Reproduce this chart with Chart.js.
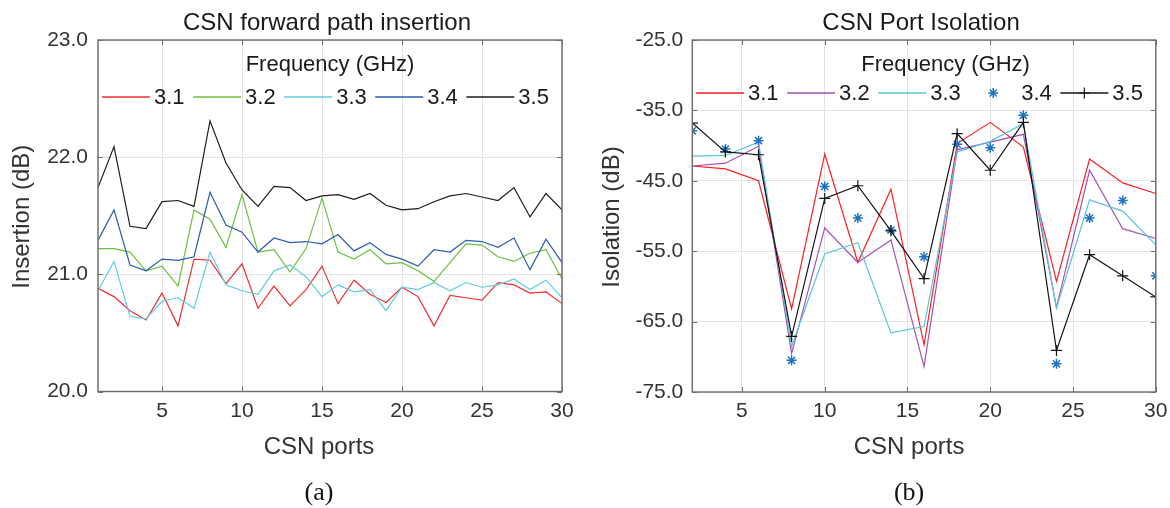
<!DOCTYPE html>
<html><head><meta charset="utf-8">
<script src="https://cdn.jsdelivr.net/npm/chart.js@4.4.1/dist/chart.umd.min.js"></script>
<style>
html,body{margin:0;padding:0;background:#fff;width:1170px;height:508px;overflow:hidden}
#wa{position:absolute;left:0;top:0;width:590px;height:508px}
#wb{position:absolute;left:590px;top:0;width:580px;height:508px}
</style></head><body>
<div id="wa"><canvas id="ca"></canvas></div>
<div id="wb"><canvas id="cb"></canvas></div>
<script>
// ---------- data ----------
const freqLabels = ['3.1', '3.2', '3.3', '3.4', '3.5'];
const portTicks = [5, 10, 15, 20, 25, 30];

const insPorts = [1,2,3,4,5,6,7,8,9,10,11,12,13,14,15,16,17,18,19,20,21,22,23,24,25,26,27,28,29,30];
const ins31 = [20.88,20.81,20.69,20.61,20.84,20.56,21.13,21.12,20.92,21.09,20.71,20.90,20.73,20.87,21.07,20.75,20.95,20.83,20.76,20.89,20.81,20.56,20.82,20.80,20.78,20.93,20.91,20.84,20.85,20.75];
const ins32 = [21.22,21.22,21.19,21.03,21.07,20.90,21.55,21.47,21.23,21.68,21.19,21.21,21.02,21.22,21.65,21.19,21.13,21.21,21.09,21.10,21.03,20.94,21.10,21.26,21.25,21.15,21.11,21.18,21.21,20.96];
const ins33 = [20.86,21.11,20.64,20.62,20.77,20.80,20.71,21.19,20.91,20.86,20.83,21.03,21.08,20.98,20.81,20.91,20.85,20.87,20.69,20.89,20.87,20.93,20.86,20.93,20.89,20.91,20.96,20.87,20.95,20.80];
const ins34 = [21.29,21.55,21.08,21.03,21.13,21.12,21.15,21.70,21.42,21.36,21.19,21.31,21.27,21.28,21.26,21.34,21.20,21.27,21.17,21.13,21.07,21.21,21.19,21.29,21.28,21.23,21.31,21.04,21.30,21.10];
const ins35 = [21.74,22.09,21.41,21.39,21.62,21.63,21.58,22.31,21.95,21.72,21.58,21.75,21.74,21.63,21.67,21.68,21.64,21.69,21.59,21.55,21.56,21.62,21.67,21.69,21.66,21.63,21.74,21.49,21.69,21.55];
const insTicks = [20, 21, 22, 23];

const isoPorts = [2,4,6,8,10,12,14,16,18,20,22,24,26,28,30];
const iso31 = [-42.9,-43.3,-45.0,-63.2,-41.2,-56.6,-46.2,-68.3,-39.7,-36.7,-40.2,-59.3,-41.9,-45.3,-46.8];
const iso32 = [-42.9,-42.5,-40.1,-69.5,-51.7,-56.6,-53.4,-71.4,-40.6,-39.5,-38.4,-63.0,-43.5,-51.8,-53.2];
const iso33 = [-41.5,-41.4,-39.5,-68.5,-55.4,-53.8,-66.6,-65.7,-40.9,-39.4,-36.9,-63.1,-47.7,-49.3,-54.1];
const iso34 = [-37.9,-40.5,-39.3,-70.5,-45.8,-50.3,-52.0,-55.8,-39.8,-40.3,-35.7,-71.0,-50.3,-47.8,-58.5];
const iso35 = [-36.8,-40.9,-41.3,-67.1,-47.5,-45.7,-52.1,-58.9,-38.3,-43.5,-36.7,-69.1,-55.5,-58.5,-61.5];
const isoTicks = [-75, -65, -55, -45, -35, -25];

// ---------- helpers ----------
const F = '"Liberation Sans", Arial, Helvetica, sans-serif';
const SERIF = '"Liberation Serif", "Times New Roman", serif';
const AX = '#707070';
const TXT = '#333333';

function xy(xs, ys){ return ys.map((v,i)=>({x:xs[i], y:v})); }

function drawMarker(ctx, style, x, y, r){
  if (style === 'cross' || style === 'star'){
    ctx.moveTo(x - r, y); ctx.lineTo(x + r, y);
    ctx.moveTo(x, y - r); ctx.lineTo(x, y + r);
  }
  if (style === 'star'){
    const d = r * Math.SQRT1_2;
    ctx.moveTo(x - d, y - d); ctx.lineTo(x + d, y + d);
    ctx.moveTo(x - d, y + d); ctx.lineTo(x + d, y - d);
  }
}

function decor(o){
  return {
    id:'decor',
    afterDatasetsDraw(chart){
      const ctx = chart.ctx, a = chart.chartArea, xs = chart.scales.x, ys = chart.scales.y;
      ctx.save();
      // inward ticks
      ctx.strokeStyle = AX; ctx.lineWidth = 1;
      ctx.beginPath();
      xs.ticks.forEach(t=>{
        const p = Math.round(xs.getPixelForValue(t.value)) + 0.5;
        ctx.moveTo(p, a.bottom); ctx.lineTo(p, a.bottom - 5);
        ctx.moveTo(p, a.top); ctx.lineTo(p, a.top + 5);
      });
      ys.ticks.forEach(t=>{
        const p = Math.round(ys.getPixelForValue(t.value)) + 0.5;
        ctx.moveTo(a.left, p); ctx.lineTo(a.left + 5, p);
        ctx.moveTo(a.right, p); ctx.lineTo(a.right - 5, p);
      });
      ctx.stroke();
      // box
      ctx.lineWidth = 1.5;
      ctx.strokeRect(a.left, a.top, a.right - a.left, a.bottom - a.top);

      const cx = (a.left + a.right) / 2;
      ctx.fillStyle = '#1a1a1a';
      ctx.font = '24px ' + F; ctx.textAlign = 'center'; ctx.textBaseline = 'alphabetic';
      ctx.fillText(o.title, cx - 3, 29.5);
      ctx.fillStyle = TXT;
      ctx.fillText(o.xlabel, cx + o.xlabOff, 454);
      ctx.save();
      ctx.translate(22, (a.top + a.bottom)/2 + 1);
      ctx.rotate(-Math.PI/2);
      ctx.textBaseline = 'middle';
      ctx.fillText(o.ylabel, 0, 0);
      ctx.restore();
      ctx.fillStyle = '#111';
      ctx.font = '26px ' + SERIF; ctx.textAlign = 'center'; ctx.textBaseline = 'alphabetic';
      ctx.fillText(o.caption, cx + o.xlabOff, 500);

      // legend
      ctx.fillStyle = '#1a1a1a';
      ctx.font = '22px ' + F; ctx.textAlign = 'center'; ctx.textBaseline = 'alphabetic';
      ctx.fillText('Frequency (GHz)', cx + o.legTitleOff, 71);
      ctx.textAlign = 'left'; ctx.textBaseline = 'middle';
      let lx = a.left + o.legStart;
      const ly = o.legY;
      const ll = 48;
      o.legend.forEach((it, i)=>{
        ctx.strokeStyle = it.color;
        if (it.line){
          ctx.lineWidth = 1.3;
          ctx.beginPath(); ctx.moveTo(lx, ly); ctx.lineTo(lx + ll, ly); ctx.stroke();
        }
        if (it.marker){
          ctx.lineWidth = it.mw;
          ctx.beginPath(); drawMarker(ctx, it.marker, lx + ll/2, ly, it.mr); ctx.stroke();
        }
        ctx.fillStyle = '#1a1a1a';
        ctx.fillText(freqLabels[i], lx + ll + 4, ly + 1);
        lx += ll + 4 + ctx.measureText(freqLabels[i]).width + 8.5;
      });
      ctx.restore();
    }
  };
}

function makeChart(id, o){
  const W = o.W, H = 508;
  return new Chart(document.getElementById(id), {
    type: 'line',
    data: { datasets: o.datasets },
    options: {
      responsive: true, maintainAspectRatio: false, animation: false,
      devicePixelRatio: 1,
      layout: { padding: { top: o.top, right: W - o.right, left: 0, bottom: 0 } },
      plugins: { legend: { display: false }, tooltip: { enabled: false }, title: { display: false } },
      elements: { line: { tension: 0, borderWidth: 1.2 } },
      scales: {
        x: {
          type: 'linear', min: o.xmin, max: 30,
          afterBuildTicks: s => { s.ticks = portTicks.map(v => ({ value: v })); },
          afterFit: s => { s.height = H - o.bottom; s.paddingLeft = 0; s.paddingRight = 0; },
          grid: { color: '#e3e3e3', lineWidth: 1, drawTicks: false },
          border: { display: false },
          ticks: { autoSkip: false, maxRotation: 0, padding: 7, color: TXT, font: { size: 21, family: F }, callback: v => String(v) }
        },
        y: {
          min: o.ymin, max: o.ymax,
          afterBuildTicks: s => { s.ticks = o.yticks.map(v => ({ value: v })); },
          afterFit: s => { s.width = o.left; s.paddingTop = 0; s.paddingBottom = 0; },
          grid: { color: '#e3e3e3', lineWidth: 1, drawTicks: false },
          border: { display: false },
          ticks: { padding: o.ypad, color: TXT, font: { size: 21, family: F }, callback: v => Number(v).toFixed(1) }
        }
      }
    },
    plugins: [decor(o)]
  });
}

// ---------- left chart ----------
const leftColors = ['#f03030', '#6cbf3f', '#60cde0', '#2a5cb0', '#1c1c1c'];
const insSeries = [ins31, ins32, ins33, ins34, ins35];
makeChart('ca', {
  W: 590, left: 98, right: 562, top: 40, bottom: 391.5,
  xmin: 1, ymin: 20, ymax: 23, yticks: insTicks, ypad: 10,
  title: 'CSN forward path insertion', xlabel: 'CSN ports', ylabel: 'Insertion (dB)', caption: '(a)',
  xlabOff: -11, legTitleOff: 0, legStart: 4, legY: 97,
  legend: leftColors.map(c => ({ color: c, line: true })),
  datasets: insSeries.map((s, i) => ({
    label: freqLabels[i], data: xy(insPorts, s), borderColor: leftColors[i], backgroundColor: leftColors[i],
    borderWidth: 1.2, pointRadius: 0, fill: false, order: 4 - i
  }))
});

// ---------- right chart ----------
const rightColors = ['#ff1f1f', '#a54fb5', '#58c6d8', '#1f73c0', '#141414'];
const isoSeries = [iso31, iso32, iso33, iso34, iso35];
makeChart('cb', {
  W: 580, left: 102.3, right: 565.8, top: 40, bottom: 392,
  xmin: 2, ymin: -75, ymax: -25, yticks: isoTicks, ypad: 9,
  title: 'CSN Port Isolation', xlabel: 'CSN ports', ylabel: 'Isolation (dB)', caption: '(b)',
  xlabOff: -15, legTitleOff: 21.5, legStart: 3.7, legY: 93,
  legend: [
    { color: rightColors[0], line: true },
    { color: rightColors[1], line: true },
    { color: rightColors[2], line: true },
    { color: rightColors[3], line: false, marker: 'star', mr: 5, mw: 1.5 },
    { color: rightColors[4], line: true, marker: 'cross', mr: 5.5, mw: 1.2 }
  ],
  datasets: isoSeries.map((s, i) => {
    const d = {
      label: freqLabels[i], data: xy(isoPorts, s), borderColor: rightColors[i], backgroundColor: rightColors[i],
      borderWidth: 1.2, pointRadius: 0, fill: false, order: 4 - i
    };
    if (i === 3) { Object.assign(d, { showLine: false, pointStyle: 'star', pointRadius: 5, pointBorderWidth: 1.5, pointBorderColor: rightColors[i] }); }
    if (i === 4) { Object.assign(d, { pointStyle: 'cross', pointRadius: 5.5, pointBorderWidth: 1.2, pointBorderColor: rightColors[i] }); }
    return d;
  })
});
</script>
</body></html>
